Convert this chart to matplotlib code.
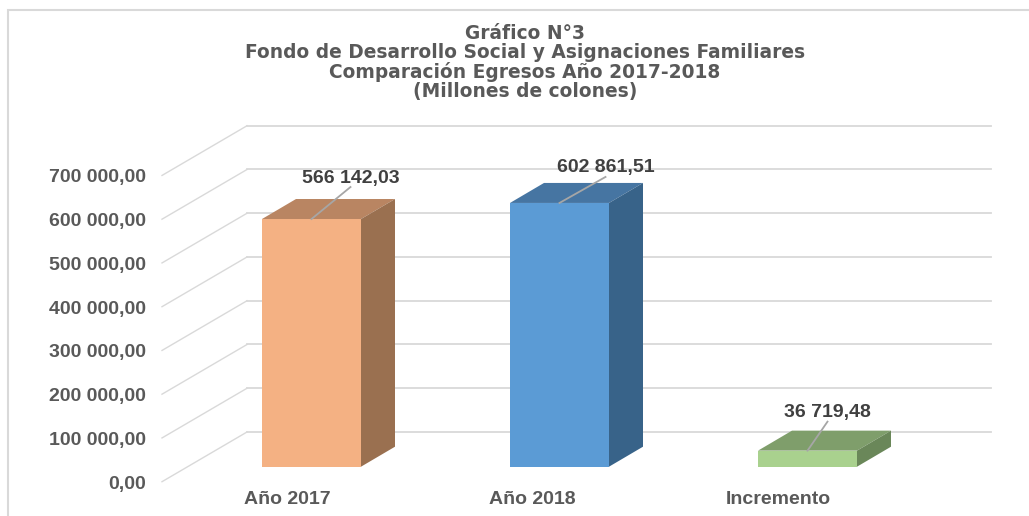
import matplotlib
matplotlib.use('Agg')
import matplotlib.pyplot as plt
from matplotlib.patches import Polygon

# ── Dati ─────────────────────────────────────────────
categories = ["Año 2017", "Año 2018", "Incremento"]
values = [566142.03, 602861.51, 36719.48]
value_labels = ["566 142,03", "602 861,51", "36 719,48"]
y_ticks = [0, 100000, 200000, 300000, 400000, 500000, 600000, 700000]
y_tick_labels = ["0,00", "100 000,00", "200 000,00", "300 000,00",
                 "400 000,00", "500 000,00", "600 000,00", "700 000,00"]
title_lines = ["Gráfico N°3",
               "Fondo de Desarrollo Social y Asignaciones Familiares",
               "Comparación Egresos Año 2017-2018",
               "(Millones de colones)"]

# ── Parametri grafici (pixel) ────────────────────────
W, H = 1029, 516
CAT0_PX, CAT_STEP_PX = 311.5, 248.0
BASE_PX = 466.7
PX_PER_VALUE = 43.75 / 100000
BAR_W = 99 / CAT_STEP_PX
BAR_DX, BAR_DY = 34 / CAT_STEP_PX, 20 / PX_PER_VALUE
GRID_COLOR = "#d9d9d9"
TEXT_COLOR = "#595959"
LABEL_COLOR = "#404040"
FONT = "Liberation Sans"
TITLE_FONT = "DejaVu Sans"
FRONT_COLORS = ["#F4B183", "#5B9BD5", "#A9D18E"]
TOP_COLORS = ["#B98562", "#4675A2", "#7F9E6B"]
SIDE_COLORS = ["#9A7050", "#386389", "#6A8759"]
LEADER_OFFSETS = [(39, 32), (46, 26), (20, 29)]   # dx, dy dalla barra
LABEL_GAP = 9


def px_x(px):
    return (px - CAT0_PX) / CAT_STEP_PX


def px_y(px):
    return (BASE_PX - px) / PX_PER_VALUE


fig = plt.figure(figsize=(W / 100, H / 100), dpi=100, facecolor="white")
ax = fig.add_axes([0, 0, 1, 1])
ax.set_xlim(px_x(0), px_x(W))
ax.set_ylim(px_y(H), px_y(0))
ax.axis("off")

# cornice
ax.plot([px_x(8), px_x(8), px_x(W)], [px_y(H), px_y(10), px_y(10)],
        color=GRID_COLOR, lw=1.5, zorder=1, solid_joinstyle="miter")

# griglia: parete di fondo + diagonale verso il piano frontale
for v, lab in zip(y_ticks, y_tick_labels):
    front_y = v - 15 / PX_PER_VALUE
    back_y = v + 34.7 / PX_PER_VALUE
    ax.plot([px_x(162), px_x(247)], [front_y, back_y], color=GRID_COLOR, lw=1.0, zorder=1)
    ax.plot([px_x(247), px_x(991)], [back_y, back_y], color=GRID_COLOR, lw=1.3, zorder=1)
    ax.text(px_x(146), front_y - 2.5 / PX_PER_VALUE, lab, ha="right", va="center", fontsize=14,
            fontweight="bold", color=TEXT_COLOR, family=FONT)

# barre 3D
for i, v in enumerate(values):
    x0, x1 = i - BAR_W / 2, i + BAR_W / 2
    ax.add_patch(Polygon([(x0, 0), (x1, 0), (x1, v), (x0, v)],
                         fc=FRONT_COLORS[i], ec="none", zorder=3))
    ax.add_patch(Polygon([(x0, v), (x1, v), (x1 + BAR_DX, v + BAR_DY), (x0 + BAR_DX, v + BAR_DY)],
                         fc=TOP_COLORS[i], ec="none", zorder=3))
    ax.add_patch(Polygon([(x1, 0), (x1 + BAR_DX, BAR_DY), (x1 + BAR_DX, v + BAR_DY), (x1, v)],
                         fc=SIDE_COLORS[i], ec="none", zorder=3))
    # linea guida + etichetta valore
    dx, dy = LEADER_OFFSETS[i]
    tip_x, tip_y = i + dx / CAT_STEP_PX, v + dy / PX_PER_VALUE
    ax.plot([i, tip_x], [v, tip_y], color="#a6a6a6", lw=1.3, zorder=4)
    ax.text(tip_x, tip_y + LABEL_GAP / PX_PER_VALUE, value_labels[i], ha="center", va="center",
            fontsize=14, fontweight="bold", color=LABEL_COLOR, family=FONT, zorder=5)

# etichette categorie
for i, cat in enumerate(categories):
    ax.text(px_x(287 + 245.5 * i), px_y(500), cat, ha="center", va="center", fontsize=14,
            fontweight="bold", color=TEXT_COLOR, family=FONT)

# titolo
for line, y in zip(title_lines, [33.5, 53, 72.5, 92]):
    ax.text(px_x(525), px_y(y), line, ha="center", va="center", fontsize=13.4,
            fontweight="bold", color=TEXT_COLOR, family=TITLE_FONT)

fig.savefig("out.png", dpi=100)
